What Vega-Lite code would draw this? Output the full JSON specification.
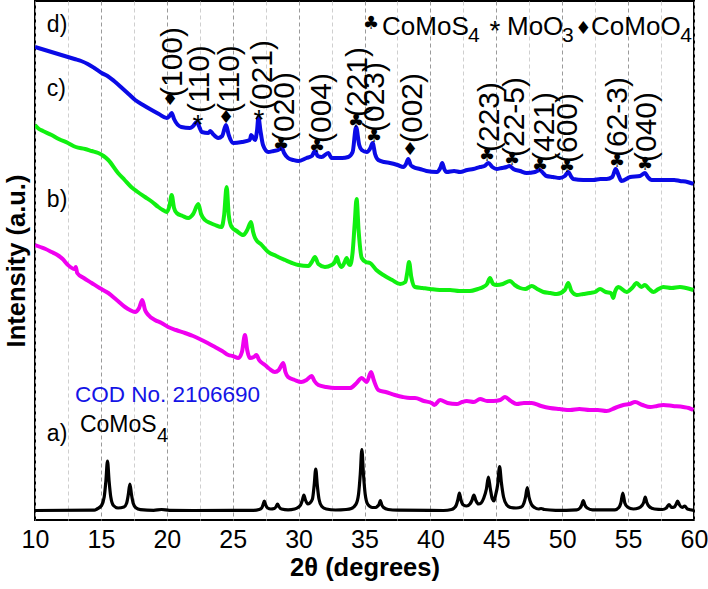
{
  "$schema": "https://vega.github.io/schema/vega-lite/v6.json",
  "width": 659,
  "height": 519,
  "autosize": "none",
  "padding": {"left": 35, "top": 1, "right": 14, "bottom": 69},
  "background": "white",
  "config": {
    "font": "Liberation Sans",
    "view": {"stroke": "black", "strokeWidth": 2}
  },
  "datasets": {
    "curves": [
      {"s":"d","x":10.0,"y":473},{"s":"d","x":10.5,"y":471},{"s":"d","x":11.0,"y":469},{"s":"d","x":11.5,"y":467},{"s":"d","x":12.0,"y":465},{"s":"d","x":12.5,"y":463},{"s":"d","x":13.0,"y":461},{"s":"d","x":13.5,"y":459},{"s":"d","x":14.0,"y":456},{"s":"d","x":14.5,"y":452},{"s":"d","x":15.06,"y":447},{"s":"d","x":15.5,"y":444},{"s":"d","x":16.0,"y":439},{"s":"d","x":16.6,"y":432},{"s":"d","x":17.1,"y":426},{"s":"d","x":17.6,"y":420},{"s":"d","x":18.2,"y":415},{"s":"d","x":18.85,"y":410},{"s":"d","x":19.4,"y":406},{"s":"d","x":20.0,"y":402},{"s":"d","x":20.2,"y":404},{"s":"d","x":20.37,"y":407},{"s":"d","x":20.55,"y":401},{"s":"d","x":21.1,"y":393},{"s":"d","x":21.76,"y":392},{"s":"d","x":22.0,"y":394},{"s":"d","x":22.27,"y":398},{"s":"d","x":22.5,"y":392},{"s":"d","x":22.65,"y":388},{"s":"d","x":23.15,"y":387},{"s":"d","x":23.3,"y":389},{"s":"d","x":23.5,"y":386},{"s":"d","x":23.9,"y":382},{"s":"d","x":24.2,"y":384},{"s":"d","x":24.49,"y":395},{"s":"d","x":24.7,"y":385},{"s":"d","x":25.05,"y":377},{"s":"d","x":25.7,"y":378},{"s":"d","x":26.3,"y":380},{"s":"d","x":26.4,"y":385},{"s":"d","x":26.7,"y":380},{"s":"d","x":26.85,"y":390},{"s":"d","x":26.95,"y":403},{"s":"d","x":27.1,"y":390},{"s":"d","x":27.3,"y":375},{"s":"d","x":27.7,"y":368},{"s":"d","x":28.1,"y":369},{"s":"d","x":28.46,"y":370},{"s":"d","x":28.7,"y":373},{"s":"d","x":28.9,"y":367},{"s":"d","x":29.2,"y":362},{"s":"d","x":29.6,"y":360},{"s":"d","x":29.98,"y":359},{"s":"d","x":30.6,"y":362},{"s":"d","x":31.0,"y":364},{"s":"d","x":31.24,"y":369},{"s":"d","x":31.45,"y":364},{"s":"d","x":31.75,"y":363},{"s":"d","x":32.25,"y":367},{"s":"d","x":32.5,"y":362},{"s":"d","x":32.76,"y":362},{"s":"d","x":33.3,"y":362},{"s":"d","x":33.77,"y":363},{"s":"d","x":34.1,"y":368},{"s":"d","x":34.36,"y":393},{"s":"d","x":34.6,"y":375},{"s":"d","x":34.79,"y":370},{"s":"d","x":35.17,"y":368},{"s":"d","x":35.45,"y":372},{"s":"d","x":35.62,"y":377},{"s":"d","x":35.8,"y":366},{"s":"d","x":36.05,"y":360},{"s":"d","x":36.5,"y":358},{"s":"d","x":36.93,"y":357},{"s":"d","x":37.5,"y":355},{"s":"d","x":37.95,"y":353},{"s":"d","x":38.15,"y":356},{"s":"d","x":38.32,"y":361},{"s":"d","x":38.5,"y":355},{"s":"d","x":38.7,"y":353},{"s":"d","x":39.2,"y":351},{"s":"d","x":39.7,"y":349},{"s":"d","x":40.48,"y":348},{"s":"d","x":40.75,"y":352},{"s":"d","x":40.9,"y":357},{"s":"d","x":41.05,"y":351},{"s":"d","x":41.23,"y":348},{"s":"d","x":41.8,"y":349},{"s":"d","x":42.25,"y":348},{"s":"d","x":42.8,"y":350},{"s":"d","x":43.26,"y":351},{"s":"d","x":43.77,"y":353},{"s":"d","x":44.1,"y":354},{"s":"d","x":44.4,"y":357},{"s":"d","x":44.7,"y":353},{"s":"d","x":45.03,"y":351},{"s":"d","x":45.4,"y":352},{"s":"d","x":45.79,"y":353},{"s":"d","x":46.0,"y":354},{"s":"d","x":46.3,"y":351},{"s":"d","x":46.8,"y":349},{"s":"d","x":47.3,"y":347},{"s":"d","x":47.94,"y":348},{"s":"d","x":48.3,"y":350},{"s":"d","x":48.55,"y":347},{"s":"d","x":48.8,"y":344},{"s":"d","x":49.3,"y":343},{"s":"d","x":49.8,"y":342},{"s":"d","x":50.2,"y":344},{"s":"d","x":50.46,"y":348},{"s":"d","x":50.7,"y":343},{"s":"d","x":50.84,"y":341},{"s":"d","x":51.6,"y":340},{"s":"d","x":52.36,"y":340},{"s":"d","x":52.9,"y":341},{"s":"d","x":53.37,"y":341},{"s":"d","x":53.8,"y":343},{"s":"d","x":54.06,"y":351},{"s":"d","x":54.3,"y":344},{"s":"d","x":54.5,"y":339},{"s":"d","x":55.16,"y":343},{"s":"d","x":55.9,"y":344},{"s":"d","x":56.28,"y":347},{"s":"d","x":56.5,"y":343},{"s":"d","x":56.79,"y":340},{"s":"d","x":57.4,"y":340},{"s":"d","x":57.92,"y":340},{"s":"d","x":58.5,"y":340},{"s":"d","x":58.93,"y":339},{"s":"d","x":59.5,"y":338},{"s":"d","x":59.95,"y":336},

      {"s":"c","x":10.0,"y":395},{"s":"c","x":10.3,"y":391},{"s":"c","x":10.6,"y":389},{"s":"c","x":11.26,"y":385},{"s":"c","x":11.8,"y":381},{"s":"c","x":12.5,"y":377},{"s":"c","x":13.1,"y":373},{"s":"c","x":13.8,"y":371},{"s":"c","x":14.3,"y":369},{"s":"c","x":14.8,"y":367},{"s":"c","x":15.2,"y":364},{"s":"c","x":15.56,"y":360},{"s":"c","x":16.3,"y":347},{"s":"c","x":16.8,"y":340},{"s":"c","x":17.3,"y":333},{"s":"c","x":17.8,"y":328},{"s":"c","x":18.35,"y":323},{"s":"c","x":18.9,"y":318},{"s":"c","x":19.36,"y":313},{"s":"c","x":19.7,"y":310},{"s":"c","x":20.0,"y":308},{"s":"c","x":20.2,"y":314},{"s":"c","x":20.37,"y":325},{"s":"c","x":20.55,"y":312},{"s":"c","x":20.75,"y":307},{"s":"c","x":21.2,"y":304},{"s":"c","x":21.63,"y":302},{"s":"c","x":22.0,"y":306},{"s":"c","x":22.39,"y":316},{"s":"c","x":22.6,"y":306},{"s":"c","x":22.9,"y":300},{"s":"c","x":23.3,"y":297},{"s":"c","x":23.66,"y":295},{"s":"c","x":24.16,"y":293},{"s":"c","x":24.35,"y":305},{"s":"c","x":24.54,"y":333},{"s":"c","x":24.7,"y":305},{"s":"c","x":24.92,"y":293},{"s":"c","x":25.3,"y":289},{"s":"c","x":25.8,"y":285},{"s":"c","x":26.1,"y":290},{"s":"c","x":26.39,"y":298},{"s":"c","x":26.55,"y":288},{"s":"c","x":26.7,"y":282},{"s":"c","x":27.2,"y":275},{"s":"c","x":27.7,"y":268},{"s":"c","x":28.3,"y":264},{"s":"c","x":28.97,"y":260},{"s":"c","x":29.5,"y":257},{"s":"c","x":29.98,"y":255},{"s":"c","x":30.74,"y":254},{"s":"c","x":31.0,"y":258},{"s":"c","x":31.24,"y":263},{"s":"c","x":31.5,"y":256},{"s":"c","x":32.0,"y":253},{"s":"c","x":32.5,"y":255},{"s":"c","x":32.75,"y":258},{"s":"c","x":32.9,"y":263},{"s":"c","x":33.05,"y":257},{"s":"c","x":33.27,"y":253},{"s":"c","x":33.5,"y":258},{"s":"c","x":33.65,"y":262},{"s":"c","x":33.8,"y":256},{"s":"c","x":33.9,"y":255},{"s":"c","x":34.1,"y":268},{"s":"c","x":34.25,"y":295},{"s":"c","x":34.4,"y":321},{"s":"c","x":34.55,"y":290},{"s":"c","x":34.79,"y":262},{"s":"c","x":35.1,"y":258},{"s":"c","x":35.42,"y":257},{"s":"c","x":35.9,"y":250},{"s":"c","x":36.43,"y":245},{"s":"c","x":37.1,"y":240},{"s":"c","x":37.7,"y":236},{"s":"c","x":38.1,"y":238},{"s":"c","x":38.25,"y":248},{"s":"c","x":38.38,"y":258},{"s":"c","x":38.55,"y":243},{"s":"c","x":38.83,"y":233},{"s":"c","x":39.4,"y":232},{"s":"c","x":39.97,"y":231},{"s":"c","x":40.7,"y":230},{"s":"c","x":41.49,"y":230},{"s":"c","x":42.2,"y":229},{"s":"c","x":43.0,"y":229},{"s":"c","x":43.6,"y":231},{"s":"c","x":44.0,"y":233},{"s":"c","x":44.3,"y":236},{"s":"c","x":44.52,"y":242},{"s":"c","x":44.75,"y":236},{"s":"c","x":45.03,"y":235},{"s":"c","x":45.5,"y":236},{"s":"c","x":46.04,"y":239},{"s":"c","x":46.4,"y":235},{"s":"c","x":46.8,"y":232},{"s":"c","x":47.2,"y":231},{"s":"c","x":47.69,"y":234},{"s":"c","x":48.1,"y":231},{"s":"c","x":48.57,"y":228},{"s":"c","x":49.1,"y":227},{"s":"c","x":49.58,"y":226},{"s":"c","x":50.2,"y":230},{"s":"c","x":50.46,"y":237},{"s":"c","x":50.7,"y":229},{"s":"c","x":51.1,"y":225},{"s":"c","x":51.6,"y":226},{"s":"c","x":52.1,"y":227},{"s":"c","x":52.5,"y":228},{"s":"c","x":52.87,"y":231},{"s":"c","x":53.3,"y":228},{"s":"c","x":53.7,"y":227},{"s":"c","x":53.88,"y":222},{"s":"c","x":54.0,"y":228},{"s":"c","x":54.26,"y":233},{"s":"c","x":54.89,"y":228},{"s":"c","x":55.3,"y":232},{"s":"c","x":55.65,"y":237},{"s":"c","x":56.0,"y":233},{"s":"c","x":56.28,"y":235},{"s":"c","x":56.6,"y":231},{"s":"c","x":56.92,"y":228},{"s":"c","x":57.3,"y":231},{"s":"c","x":57.67,"y":233},{"s":"c","x":58.3,"y":232},{"s":"c","x":58.93,"y":233},{"s":"c","x":59.4,"y":232},{"s":"c","x":59.95,"y":230},

      {"s":"b","x":10.0,"y":275},{"s":"b","x":10.4,"y":273},{"s":"b","x":10.8,"y":271},{"s":"b","x":11.26,"y":268},{"s":"b","x":11.7,"y":265},{"s":"b","x":12.1,"y":261},{"s":"b","x":12.5,"y":255},{"s":"b","x":13.0,"y":251},{"s":"b","x":13.1,"y":253},{"s":"b","x":13.2,"y":247},{"s":"b","x":13.7,"y":242},{"s":"b","x":14.3,"y":237},{"s":"b","x":14.9,"y":232},{"s":"b","x":15.56,"y":227},{"s":"b","x":16.2,"y":220},{"s":"b","x":16.83,"y":213},{"s":"b","x":17.2,"y":210},{"s":"b","x":17.59,"y":208},{"s":"b","x":17.9,"y":212},{"s":"b","x":18.14,"y":220},{"s":"b","x":18.35,"y":210},{"s":"b","x":18.6,"y":205},{"s":"b","x":19.1,"y":200},{"s":"b","x":19.6,"y":197},{"s":"b","x":20.1,"y":193},{"s":"b","x":20.7,"y":190},{"s":"b","x":21.38,"y":187},{"s":"b","x":22.0,"y":184},{"s":"b","x":22.65,"y":180},{"s":"b","x":23.1,"y":177},{"s":"b","x":23.66,"y":173},{"s":"b","x":24.2,"y":169},{"s":"b","x":24.67,"y":165},{"s":"b","x":25.0,"y":164},{"s":"b","x":25.43,"y":162},{"s":"b","x":25.7,"y":168},{"s":"b","x":25.93,"y":185},{"s":"b","x":26.1,"y":170},{"s":"b","x":26.3,"y":162},{"s":"b","x":26.6,"y":163},{"s":"b","x":26.8,"y":165},{"s":"b","x":27.0,"y":160},{"s":"b","x":27.45,"y":155},{"s":"b","x":27.8,"y":151},{"s":"b","x":28.2,"y":148},{"s":"b","x":28.5,"y":150},{"s":"b","x":28.84,"y":157},{"s":"b","x":29.0,"y":148},{"s":"b","x":29.2,"y":143},{"s":"b","x":29.7,"y":140},{"s":"b","x":30.2,"y":138},{"s":"b","x":30.6,"y":140},{"s":"b","x":30.99,"y":144},{"s":"b","x":31.2,"y":139},{"s":"b","x":31.5,"y":135},{"s":"b","x":32.1,"y":133},{"s":"b","x":32.76,"y":132},{"s":"b","x":33.4,"y":132},{"s":"b","x":33.9,"y":132},{"s":"b","x":34.4,"y":137},{"s":"b","x":34.79,"y":142},{"s":"b","x":35.17,"y":138},{"s":"b","x":35.5,"y":148},{"s":"b","x":35.7,"y":140},{"s":"b","x":36.05,"y":130},{"s":"b","x":36.6,"y":128},{"s":"b","x":37.3,"y":125},{"s":"b","x":37.9,"y":123},{"s":"b","x":38.46,"y":122},{"s":"b","x":38.83,"y":122},{"s":"b","x":39.5,"y":119},{"s":"b","x":40.1,"y":117},{"s":"b","x":40.3,"y":115},{"s":"b","x":40.73,"y":120},{"s":"b","x":41.3,"y":117},{"s":"b","x":42.0,"y":116},{"s":"b","x":42.4,"y":118},{"s":"b","x":42.76,"y":119},{"s":"b","x":43.3,"y":118},{"s":"b","x":43.77,"y":121},{"s":"b","x":44.3,"y":119},{"s":"b","x":44.78,"y":119},{"s":"b","x":45.3,"y":120},{"s":"b","x":45.66,"y":123},{"s":"b","x":46.1,"y":119},{"s":"b","x":46.55,"y":116},{"s":"b","x":47.1,"y":117},{"s":"b","x":47.69,"y":117},{"s":"b","x":48.4,"y":114},{"s":"b","x":49.07,"y":112},{"s":"b","x":49.8,"y":111},{"s":"b","x":50.6,"y":110},{"s":"b","x":51.3,"y":111},{"s":"b","x":52.1,"y":110},{"s":"b","x":52.7,"y":110},{"s":"b","x":53.37,"y":109},{"s":"b","x":54.0,"y":112},{"s":"b","x":54.64,"y":115},{"s":"b","x":55.1,"y":116},{"s":"b","x":55.53,"y":118},{"s":"b","x":56.1,"y":115},{"s":"b","x":56.67,"y":113},{"s":"b","x":57.2,"y":114},{"s":"b","x":57.67,"y":115},{"s":"b","x":58.4,"y":114},{"s":"b","x":59.18,"y":113},{"s":"b","x":59.6,"y":112},{"s":"b","x":59.95,"y":110},

      {"s":"a","x":10.0,"y":9.5},{"s":"a","x":14.5,"y":9.8},{"s":"a","x":14.7,"y":11},{"s":"a","x":15.05,"y":14.5},{"s":"a","x":15.25,"y":22.9},{"s":"a","x":15.38,"y":39.2},{"s":"a","x":15.5,"y":59},{"s":"a","x":15.62,"y":39.2},{"s":"a","x":15.75,"y":22.9},{"s":"a","x":15.95,"y":14.5},{"s":"a","x":16.3,"y":12},{"s":"a","x":16.75,"y":13},{"s":"a","x":16.95,"y":16.7},{"s":"a","x":17.08,"y":25.4},{"s":"a","x":17.2,"y":36},{"s":"a","x":17.32,"y":25.4},{"s":"a","x":17.45,"y":16.7},{"s":"a","x":17.65,"y":12.2},{"s":"a","x":18.0,"y":10.3},{"s":"a","x":19.0,"y":9.6},{"s":"a","x":19.6,"y":10.5},{"s":"a","x":20.2,"y":9.6},{"s":"a","x":22.0,"y":9.5},{"s":"a","x":26.6,"y":9.7},{"s":"a","x":27.0,"y":10.5},{"s":"a","x":27.2,"y":12},{"s":"a","x":27.3,"y":15.2},{"s":"a","x":27.4,"y":19},{"s":"a","x":27.5,"y":15.2},{"s":"a","x":27.65,"y":12},{"s":"a","x":27.9,"y":11},{"s":"a","x":28.15,"y":11.5},{"s":"a","x":28.3,"y":13.5},{"s":"a","x":28.4,"y":16},{"s":"a","x":28.5,"y":13.5},{"s":"a","x":28.7,"y":11},{"s":"a","x":29.2,"y":10.2},{"s":"a","x":29.7,"y":11},{"s":"a","x":29.95,"y":12.5},{"s":"a","x":30.15,"y":15},{"s":"a","x":30.28,"y":19.5},{"s":"a","x":30.4,"y":25},{"s":"a","x":30.52,"y":20},{"s":"a","x":30.7,"y":16},{"s":"a","x":30.85,"y":17},{"s":"a","x":31.05,"y":21},{"s":"a","x":31.18,"y":34.5},{"s":"a","x":31.3,"y":51},{"s":"a","x":31.42,"y":34.5},{"s":"a","x":31.55,"y":20.7},{"s":"a","x":31.75,"y":13.7},{"s":"a","x":32.1,"y":11},{"s":"a","x":32.8,"y":10},{"s":"a","x":33.6,"y":10.5},{"s":"a","x":34.0,"y":11.5},{"s":"a","x":34.35,"y":15.6},{"s":"a","x":34.55,"y":26},{"s":"a","x":34.68,"y":46},{"s":"a","x":34.8,"y":70.5},{"s":"a","x":34.92,"y":46},{"s":"a","x":35.05,"y":26},{"s":"a","x":35.25,"y":15.6},{"s":"a","x":35.6,"y":12.5},{"s":"a","x":35.85,"y":12.5},{"s":"a","x":36.0,"y":14},{"s":"a","x":36.1,"y":15.5},{"s":"a","x":36.2,"y":19.5},{"s":"a","x":36.3,"y":15.5},{"s":"a","x":36.45,"y":12.5},{"s":"a","x":36.8,"y":10.5},{"s":"a","x":37.5,"y":9.8},{"s":"a","x":41.0,"y":9.5},{"s":"a","x":41.6,"y":10.5},{"s":"a","x":41.8,"y":12},{"s":"a","x":41.95,"y":14.5},{"s":"a","x":42.08,"y":20},{"s":"a","x":42.2,"y":27},{"s":"a","x":42.32,"y":20},{"s":"a","x":42.5,"y":15},{"s":"a","x":42.75,"y":14},{"s":"a","x":43.0,"y":16},{"s":"a","x":43.15,"y":19.5},{"s":"a","x":43.3,"y":25},{"s":"a","x":43.45,"y":19.5},{"s":"a","x":43.65,"y":16},{"s":"a","x":43.85,"y":17},{"s":"a","x":44.05,"y":22},{"s":"a","x":44.25,"y":31},{"s":"a","x":44.4,"y":43},{"s":"a","x":44.55,"y":31},{"s":"a","x":44.7,"y":21},{"s":"a","x":44.82,"y":19},{"s":"a","x":44.95,"y":25},{"s":"a","x":45.1,"y":35},{"s":"a","x":45.25,"y":53.5},{"s":"a","x":45.38,"y":38},{"s":"a","x":45.55,"y":23},{"s":"a","x":45.8,"y":15},{"s":"a","x":46.1,"y":12.5},{"s":"a","x":46.5,"y":12},{"s":"a","x":46.9,"y":13},{"s":"a","x":47.1,"y":17},{"s":"a","x":47.22,"y":23},{"s":"a","x":47.35,"y":32.5},{"s":"a","x":47.48,"y":23},{"s":"a","x":47.65,"y":16},{"s":"a","x":47.9,"y":12.5},{"s":"a","x":48.2,"y":11},{"s":"a","x":48.4,"y":11.5},{"s":"a","x":48.65,"y":10.5},{"s":"a","x":49.5,"y":9.7},{"s":"a","x":51.1,"y":10.2},{"s":"a","x":51.35,"y":12},{"s":"a","x":51.48,"y":15},{"s":"a","x":51.6,"y":19.5},{"s":"a","x":51.72,"y":15},{"s":"a","x":51.9,"y":12},{"s":"a","x":52.3,"y":10.2},{"s":"a","x":54.0,"y":10.2},{"s":"a","x":54.3,"y":12.5},{"s":"a","x":54.45,"y":17},{"s":"a","x":54.6,"y":27},{"s":"a","x":54.75,"y":17},{"s":"a","x":54.95,"y":13},{"s":"a","x":55.4,"y":11},{"s":"a","x":55.8,"y":12},{"s":"a","x":56.05,"y":14.5},{"s":"a","x":56.18,"y":17.5},{"s":"a","x":56.3,"y":23},{"s":"a","x":56.42,"y":17.5},{"s":"a","x":56.6,"y":13.5},{"s":"a","x":57.0,"y":11},{"s":"a","x":57.6,"y":10.5},{"s":"a","x":57.9,"y":12},{"s":"a","x":58.1,"y":15.5},{"s":"a","x":58.3,"y":12.5},{"s":"a","x":58.5,"y":13},{"s":"a","x":58.65,"y":16},{"s":"a","x":58.75,"y":19},{"s":"a","x":58.9,"y":15},{"s":"a","x":59.1,"y":12.5},{"s":"a","x":59.3,"y":14},{"s":"a","x":59.5,"y":11},{"s":"a","x":60.0,"y":9.7}
    ],
    "hkl": [
      {"x":20.47,"y":423,"t":"(100)"},{"x":22.52,"y":407,"t":"(110)"},{"x":24.8,"y":407,"t":"(110)"},{"x":27.3,"y":410,"t":"(021)"},{"x":28.97,"y":378,"t":"(020)"},{"x":31.78,"y":377,"t":"(004)"},{"x":34.5,"y":403,"t":"(221)"},{"x":35.8,"y":388,"t":"(023)"},{"x":38.68,"y":377,"t":"(002)"},{"x":44.52,"y":368,"t":"(223)"},{"x":46.42,"y":363,"t":"(22-5)"},{"x":48.7,"y":358,"t":"(421)"},{"x":50.44,"y":357,"t":"(600)"},{"x":54.23,"y":363,"t":"(62-3)"},{"x":56.43,"y":358,"t":"(040)"}
    ],
    "sym": [
      {"x":20.24,"y":420,"t":"♦"},{"x":24.49,"y":402,"t":"♦"},{"x":28.66,"y":375,"t":"♣"},{"x":31.4,"y":373,"t":"♣"},{"x":34.36,"y":398,"t":"♣"},{"x":35.72,"y":383,"t":"♣"},{"x":38.45,"y":370,"t":"♦"},{"x":44.29,"y":364,"t":"♣"},{"x":46.19,"y":360,"t":"♣"},{"x":48.32,"y":354,"t":"♣"},{"x":50.36,"y":353,"t":"♣"},{"x":54.16,"y":358,"t":"♣"},{"x":56.28,"y":355,"t":"♣"},{"x":35.49,"y":496,"t":"♣"},{"x":51.6,"y":491,"t":"♦"}
    ],
    "star": [
      {"x":22.37,"y":402,"t":"*"},{"x":27.0,"y":407,"t":"*"},{"x":44.9,"y":496.5,"t":"*"}
    ],
    "panel": [
      {"x":10.9,"y":488,"t":"d)"},{"x":10.9,"y":424,"t":"c)"},{"x":10.9,"y":313,"t":"b)"},{"x":10.9,"y":79,"t":"a)"},{"x":13.41,"y":88,"t":"CoMoS"}
    ],
    "panelsub": [
      {"x":19.26,"y":78,"t":"4"}
    ],
    "cod": [
      {"x":13.03,"y":118.5,"t":"COD No. 2106690"}
    ],
    "legend": [
      {"x":36.33,"y":485,"t":"CoMoS"},{"x":45.81,"y":485,"t":"MoO"},{"x":52.19,"y":485,"t":"CoMoO"}
    ],
    "legendsub": [
      {"x":42.85,"y":478.5,"t":"4"},{"x":49.99,"y":478.5,"t":"3"},{"x":58.95,"y":478.5,"t":"4"}
    ]
  },
  "encoding": {
    "x": {
      "field": "x", "type": "quantitative",
      "scale": {"domain": [10, 60], "nice": false, "zero": false},
      "axis": {
        "title": "2θ (degrees)",
        "values": [10, 12.5, 15, 17.5, 20, 22.5, 25, 27.5, 30, 32.5, 35, 37.5, 40, 42.5, 45, 47.5, 50, 52.5, 55, 57.5, 60],
        "labelExpr": "datum.value % 5 === 0 ? datum.label : ''",
        "labelFontSize": 25, "labelColor": "black", "labelPadding": 7, "labelFont": "Liberation Sans",
        "labelFlush": false, "labelOverlap": false, "labelBound": false,
        "ticks": false, "domain": false,
        "grid": true,
        "gridColor": {"condition": {"test": "datum.value % 5 === 0", "value": "#9a9a9a"}, "value": "#cfcfcf"},
        "gridDash": [4, 3], "gridWidth": 1,
        "titleFontSize": 25.5, "titleFontWeight": "bold", "titleColor": "black", "titlePadding": 3, "titleFont": "Liberation Sans"
      }
    },
    "y": {
      "field": "y", "type": "quantitative",
      "scale": {"domain": [0, 519], "nice": false, "zero": false},
      "axis": {
        "title": "Intensity (a.u.)", "labels": false, "ticks": false, "domain": false, "grid": false,
        "titleFontSize": 25.5, "titleFontWeight": "bold", "titleColor": "black", "titlePadding": 6, "titleFont": "Liberation Sans"
      }
    }
  },
  "layer": [
    {
      "data": {"name": "curves"},
      "transform": [{"filter": "datum.s !== 'a'"}],
      "mark": {"type": "line", "strokeWidth": 4, "interpolate": "monotone", "clip": true},
      "encoding": {
        "color": {"field": "s", "type": "nominal", "scale": {"domain": ["a", "b", "c", "d"], "range": ["#000000", "#f000f0", "#10f010", "#0a0ae6"]}, "legend": null}
      }
    },
    {
      "data": {"name": "curves"},
      "transform": [{"filter": "datum.s === 'a'"}],
      "mark": {"type": "line", "strokeWidth": 3.2, "interpolate": "monotone", "clip": true},
      "encoding": {
        "color": {"field": "s", "type": "nominal", "scale": {"domain": ["a", "b", "c", "d"], "range": ["#000000", "#f000f0", "#10f010", "#0a0ae6"]}, "legend": null}
      }
    },
    {
      "data": {"name": "hkl"},
      "mark": {"type": "text", "angle": 270, "align": "left", "baseline": "middle", "fontSize": 30, "font": "Liberation Sans", "color": "black"},
      "encoding": {"text": {"field": "t"}}
    },
    {
      "data": {"name": "sym"},
      "mark": {"type": "text", "align": "center", "baseline": "middle", "fontSize": 18, "font": "DejaVu Sans", "color": "black"},
      "encoding": {"text": {"field": "t"}}
    },
    {
      "data": {"name": "star"},
      "mark": {"type": "text", "align": "center", "baseline": "middle", "fontSize": 28, "font": "Liberation Sans", "color": "black", "dy": 8},
      "encoding": {"text": {"field": "t"}}
    },
    {
      "data": {"name": "panel"},
      "mark": {"type": "text", "align": "left", "baseline": "alphabetic", "fontSize": 23, "font": "Liberation Sans", "color": "black"},
      "encoding": {"text": {"field": "t"}}
    },
    {
      "data": {"name": "panelsub"},
      "mark": {"type": "text", "align": "left", "baseline": "alphabetic", "fontSize": 20, "font": "Liberation Sans", "color": "black"},
      "encoding": {"text": {"field": "t"}}
    },
    {
      "data": {"name": "cod"},
      "mark": {"type": "text", "align": "left", "baseline": "alphabetic", "fontSize": 22.5, "font": "Liberation Sans", "color": "#1414e6"},
      "encoding": {"text": {"field": "t"}}
    },
    {
      "data": {"name": "legend"},
      "mark": {"type": "text", "align": "left", "baseline": "alphabetic", "fontSize": 26, "font": "Liberation Sans", "color": "black"},
      "encoding": {"text": {"field": "t"}}
    },
    {
      "data": {"name": "legendsub"},
      "mark": {"type": "text", "align": "left", "baseline": "alphabetic", "fontSize": 21, "font": "Liberation Sans", "color": "black"},
      "encoding": {"text": {"field": "t"}}
    }
  ]
}
